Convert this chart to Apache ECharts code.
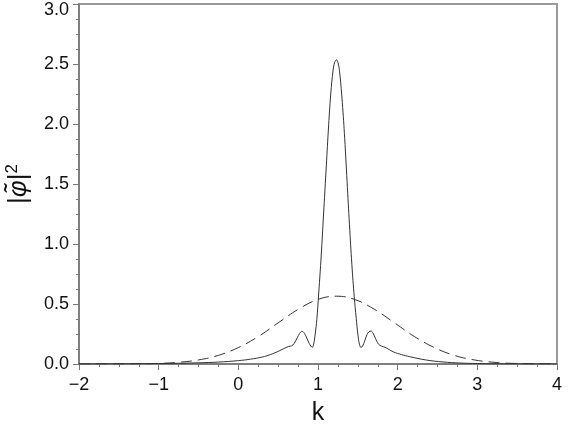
<!DOCTYPE html>
<html>
<head>
<meta charset="utf-8">
<script src="https://cdn.jsdelivr.net/npm/echarts@6/dist/echarts.min.js"></script>
<style>
html,body{margin:0;padding:0;background:#fff;}
#chart{width:570px;height:424px;}
</style>
</head>
<body>
<div id="chart"></div>
<script>
// Solid curve |phi~|^2 (k, value)
const solidK = [-2.0,-1.5,-1.0,-0.75,-0.5,-0.25,0.0,0.15,0.3,0.4,0.5,0.57,0.63,0.67,0.70,0.74,0.77,0.80,0.83,0.86,0.89,0.91,0.928,0.945,0.965,0.985,1.01,1.04,1.07,1.10,1.13,1.16,1.19,1.21,1.232,1.255,1.275,1.305,1.335,1.365,1.395,1.425,1.455,1.48,1.50,1.52,1.54,1.56,1.585,1.615,1.64,1.665,1.69,1.72,1.76,1.80,1.84,1.88,1.95,2.05,2.15,2.36,2.57,2.78,3.0,3.2,3.5,4.0];
const solidV = [0.000,0.001,0.004,0.006,0.010,0.016,0.028,0.040,0.058,0.078,0.105,0.128,0.146,0.152,0.170,0.220,0.255,0.272,0.255,0.215,0.170,0.150,0.138,0.165,0.250,0.370,0.600,0.900,1.250,1.600,1.950,2.250,2.450,2.515,2.535,2.500,2.410,2.180,1.880,1.520,1.160,0.830,0.560,0.380,0.250,0.165,0.138,0.150,0.190,0.245,0.268,0.275,0.258,0.215,0.165,0.148,0.140,0.125,0.100,0.078,0.061,0.033,0.017,0.008,0.004,0.002,0.001,0.000];
// Dashed curve (k, value)
const dashK = [-2.0,-1.5,-1.0,-0.75,-0.5,-0.25,0.0,0.25,0.5,0.75,1.0,1.23,1.46,1.71,1.96,2.21,2.46,2.71,2.96,3.21,3.46,3.96,4.0];
const dashV = [0.000,0.001,0.005,0.014,0.034,0.072,0.137,0.229,0.343,0.455,0.538,0.565,0.538,0.455,0.343,0.229,0.137,0.072,0.034,0.014,0.005,0.001,0.000];
const xTicks = [-2,-1,0,1,2,3,4];
const yTicks = [0.0,0.5,1.0,1.5,2.0,2.5,3.0];

const zip = (a,b) => a.map((x,i)=>[x,b[i]]);
const font = 'Liberation Sans, Arial, sans-serif';
const chart = echarts.init(document.getElementById('chart'), null, {renderer:'canvas'});
chart.setOption({
  animation:false,
  backgroundColor:'#fff',
  grid:{left:79,right:13,top:4,bottom:60,containLabel:false,outerBoundsMode:'none',
        show:true,borderColor:'#999',borderWidth:2,backgroundColor:'transparent'},
  xAxis:{
    type:'value',min:xTicks[0],max:xTicks[xTicks.length-1],interval:1,
    name:'k',nameLocation:'middle',nameGap:37,nameMoveOverlap:false,
    nameTextStyle:{fontSize:25,color:'#111',fontFamily:font},
    axisLine:{show:true,onZero:false,lineStyle:{color:'#777',width:1.5}},
    axisTick:{show:true,inside:false,length:6,lineStyle:{color:'#777'}},
    minorTick:{show:true,splitNumber:4,length:3,lineStyle:{color:'#777'}},
    splitLine:{show:false},
    axisLabel:{fontSize:18,color:'#111',fontFamily:font,margin:12,
      formatter:v=>v<0?'\u2212'+Math.abs(v):String(v)}
  },
  yAxis:{
    type:'value',min:yTicks[0],max:yTicks[yTicks.length-1],interval:0.5,
    name:'|{p|\u03c6\u0303}|{s|2}',nameLocation:'middle',nameGap:45,nameRotate:90,nameMoveOverlap:false,
    nameTextStyle:{fontSize:26,color:'#111',fontFamily:font,
      rich:{p:{fontSize:26,fontStyle:'italic',color:'#111',fontFamily:font},
            s:{fontSize:17,color:'#111',fontFamily:font,padding:[0,0,13,0]}}},
    axisLine:{show:true,onZero:false,lineStyle:{color:'#777',width:1.5}},
    axisTick:{show:true,inside:false,length:6,lineStyle:{color:'#777'}},
    minorTick:{show:true,splitNumber:4,length:3,lineStyle:{color:'#777'}},
    splitLine:{show:false},
    axisLabel:{fontSize:18,color:'#111',fontFamily:font,margin:10,
      formatter:v=>v===yTicks[yTicks.length-1]?'{t|'+v.toFixed(1)+'}':v.toFixed(1),
      rich:{t:{fontSize:18,color:'#111',fontFamily:font,padding:[12,0,0,0]}}}
  },
  series:[
    {type:'line',data:zip(dashK,dashV),showSymbol:false,smooth:0.4,
     lineStyle:{color:'#333',width:1,type:[11,6]}},
    {type:'line',data:zip(solidK,solidV),showSymbol:false,smooth:0.4,
     lineStyle:{color:'#333',width:1}}
  ]
});
</script>
</body>
</html>
